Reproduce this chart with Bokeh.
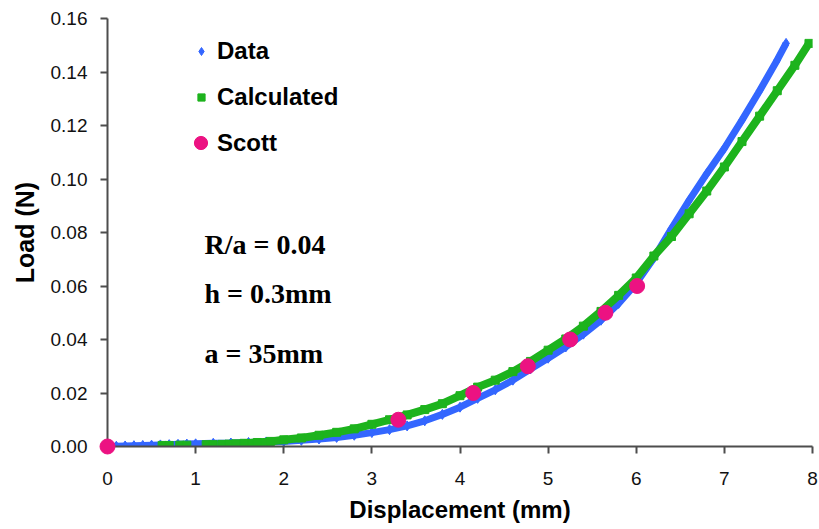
from bokeh.plotting import figure
from bokeh.models import (ColumnDataSource, FixedTicker, PrintfTickFormatter,
                          Legend, LegendItem, Label, Range1d)
from bokeh.embed import file_html
from bokeh.resources import INLINE

# Measured load-displacement curve
data_disp = [0.0, 0.1, 0.2, 0.3, 0.4, 0.5, 0.6, 0.7, 0.8, 0.9, 1.0, 1.2, 1.4, 1.6,
             1.8, 2.0, 2.2, 2.4, 2.6, 2.8, 3.0, 3.2, 3.4, 3.6, 3.8, 4.0, 4.2, 4.4,
             4.6, 4.8, 5.0, 5.2, 5.4, 5.6, 5.8, 6.0, 6.2, 6.4, 6.6, 6.8, 7.0, 7.2,
             7.4, 7.6, 7.7]
data_load = [0.0000, 0.0001, 0.0002, 0.0003, 0.0004, 0.0005, 0.0006, 0.0007,
             0.0008, 0.0009, 0.0010, 0.0012, 0.0013, 0.0015, 0.0017, 0.0019,
             0.0023, 0.0028, 0.0034, 0.0042, 0.0052, 0.0063, 0.0077, 0.0096,
             0.0120, 0.0147, 0.0180, 0.0212, 0.0248, 0.0290, 0.0330, 0.0372,
             0.0420, 0.0472, 0.0535, 0.0610, 0.0705, 0.0815, 0.0920, 0.1020,
             0.1115, 0.1220, 0.1330, 0.1445, 0.1507]

# Calculated response
calc_disp = [0.62, 0.70, 0.82, 0.90, 1.12, 1.20, 1.30, 1.38, 1.46, 1.55, 1.7,
             1.85, 2.0, 2.2, 2.4, 2.6, 2.8, 3.0, 3.2, 3.4, 3.6, 3.8, 4.0, 4.2,
             4.4, 4.6, 4.8, 5.0, 5.2, 5.4, 5.6, 5.8, 6.0, 6.2, 6.4, 6.6, 6.8,
             7.0, 7.2, 7.4, 7.6, 7.8, 7.96]
calc_load = [0.0004, 0.0004, 0.0005, 0.0005, 0.0007, 0.0007, 0.0008, 0.0009,
             0.0010, 0.0012, 0.0015, 0.0019, 0.0025, 0.0032, 0.0042, 0.0053,
             0.0066, 0.0083, 0.0100, 0.0118, 0.0138, 0.0160, 0.0190, 0.0222,
             0.0248, 0.0280, 0.0318, 0.0360, 0.0402, 0.0450, 0.0505, 0.0565,
             0.0630, 0.0712, 0.0785, 0.0870, 0.0955, 0.1045, 0.1140, 0.1235,
             0.1330, 0.1425, 0.1507]

# Scott's solution
scott_disp = [0.0, 3.30, 4.15, 4.77, 5.25, 5.65, 6.01]
scott_load = [0.0, 0.01, 0.02, 0.03, 0.04, 0.05, 0.06]

x_ticks = [0, 1, 2, 3, 4, 5, 6, 7, 8]
y_ticks = [0.0, 0.02, 0.04, 0.06, 0.08, 0.10, 0.12, 0.14, 0.16]

BLUE = "#3366FF"
GREEN = "#1DB31D"
PINK = "#EC1282"
AXIS = "#4d4d4d"

p = figure(width=819, height=529, output_backend="svg", toolbar_location=None,
           x_range=Range1d(0, 8), y_range=Range1d(0, 0.16),
           min_border_left=107, min_border_right=7,
           min_border_top=18, min_border_bottom=83)
p.outline_line_color = None
p.xgrid.visible = False
p.ygrid.visible = False
p.background_fill_color = "white"
p.border_fill_color = "white"

src_data = ColumnDataSource(dict(x=data_disp, y=data_load))
src_calc = ColumnDataSource(dict(x=calc_disp, y=calc_load))
src_scott = ColumnDataSource(dict(x=scott_disp, y=scott_load))

# Measured data: dense blue diamond trace
p.line("x", "y", source=src_data, line_color=BLUE, line_width=7)
r_data = p.scatter("x", "y", source=src_data, marker="diamond", size=10,
                   fill_color=BLUE, line_color=BLUE)

# Calculated curve: green squares (sparse clusters at small displacement)
p.line(calc_disp[9:], calc_load[9:], line_color=GREEN, line_width=8)
r_calc = p.scatter("x", "y", source=src_calc, marker="square", size=8,
                   fill_color=GREEN, line_color=GREEN)

# Scott points drawn above the axes so the origin point shows whole
r_scott = p.scatter("x", "y", source=src_scott, marker="circle", size=15,
                    fill_color=PINK, line_color=PINK, level="overlay")

# Axes
for ax in (p.xaxis[0], p.yaxis[0]):
    ax.axis_line_color = AXIS
    ax.axis_line_width = 2
    ax.major_tick_line_color = AXIS
    ax.major_tick_line_width = 2
    ax.major_tick_in = 0
    ax.major_tick_out = 7
    ax.minor_tick_line_color = None
    ax.major_label_text_font = "Liberation Sans"
    ax.major_label_text_font_size = "19px"
    ax.major_label_text_color = "#111111"
    ax.axis_label_text_font = "Liberation Sans"
    ax.axis_label_text_font_style = "bold"
    ax.axis_label_text_color = "black"

p.xaxis.ticker = FixedTicker(ticks=x_ticks)
p.yaxis.ticker = FixedTicker(ticks=y_ticks)
p.yaxis.formatter = PrintfTickFormatter(format="%.2f")
p.xaxis.major_label_standoff = 18
p.yaxis.major_label_standoff = 13
p.xaxis.axis_label = "Displacement (mm)"
p.yaxis.axis_label = "Load (N)"
p.xaxis.axis_label_text_font_size = "24px"
p.yaxis.axis_label_text_font_size = "25px"
p.xaxis.axis_label_standoff = 8
p.yaxis.axis_label_standoff = 9

# One single-entry legend per series so each key marker keeps its own size
legend_specs = [
    ("Data", r_data, 20, 32, 6, (84, 379)),
    ("Calculated", r_calc, 18, 32, 7, (85, 333)),
    ("Scott", r_scott, 33, 33, 0, (77, 287)),
]
for label, rend, gw, gh, standoff, loc in legend_specs:
    lg = Legend(items=[LegendItem(label=label, renderers=[rend])],
                location=loc, orientation="vertical",
                padding=0, margin=0, spacing=0,
                glyph_width=gw, glyph_height=gh, label_height=gh,
                label_standoff=standoff,
                label_text_font="Liberation Sans", label_text_font_style="bold",
                label_text_font_size="24px", label_text_color="black",
                border_line_color=None, background_fill_alpha=0)
    p.add_layout(lg)

# Specimen parameters
for txt, yv in (("R/a = 0.04", 0.0755), ("h = 0.3mm", 0.0572), ("a = 35mm", 0.0348)):
    p.add_layout(Label(x=1.10, y=yv, text=txt, text_font="Liberation Serif",
                       text_font_style="bold", text_font_size="28px",
                       text_color="black", text_baseline="middle"))

open("out.html", "w").write(file_html(p, INLINE))
